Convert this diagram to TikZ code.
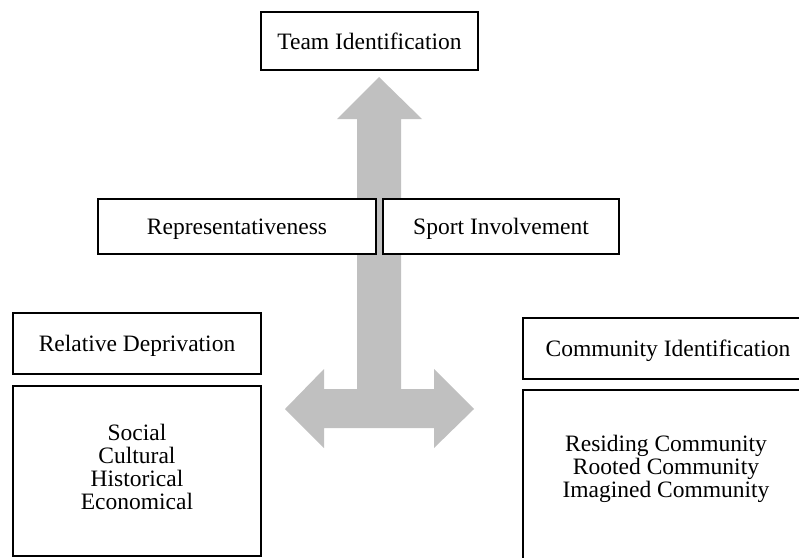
\documentclass[tikz,border=0pt]{standalone}
\usepackage{fontspec}
\setmainfont{Liberation Serif}
\definecolor{arrowgray}{RGB}{192,192,192}
\begin{document}
\begin{tikzpicture}[x=1pt,y=-1pt,
  box/.style={draw=black,line width=1.8pt,fill=white,inner sep=0pt,align=center,
    font=\fontsize{23.5}{23}\selectfont},
  onebox/.style={box,text height=21pt,text depth=5pt},
  listtext/.style={font=\fontsize{23.5}{23}\selectfont,align=center,inner sep=0pt},
  bigarrow/.style={fill=arrowgray,draw=none}]
\useasboundingbox (0,0) rectangle (799,557);
\clip (0,0) rectangle (799,557);
% big gray arrow
\coordinate (tip) at (379,77);
\coordinate (ltip) at (285,409);
\coordinate (rtip) at (474,409);
\fill[bigarrow] (tip) -- (422,119) -- (401,119) -- (401,389) -- (434,389) -- (434,369)
  -- (rtip) -- (434,448) -- (434,428) -- (324,428) -- (324,448) -- (ltip)
  -- (324,369) -- (324,389) -- (357,389) -- (357,119) -- (337,119) -- cycle;
% boxes
\node[onebox,minimum width=217pt,minimum height=58pt] (team) at (369.5,41) {Team Identification};
\node[onebox,minimum width=278pt,minimum height=55pt] (rep) at (237,226.5) {Representativeness};
\node[onebox,minimum width=236pt,minimum height=55pt] (sport) at (501,226.5) {Sport Involvement};
\node[onebox,minimum width=248pt,minimum height=61pt] (rel) at (137,343.5) {Relative Deprivation};
\node[box,minimum width=248pt,minimum height=170pt] (relbox) at (137,471) {};
\node[listtext] (reltext) at (137,467) {Social\\Cultural\\Historical\\Economical};
\node[onebox,minimum width=290pt,minimum height=61pt] (com) at (668,348.5) {Community Identification};
\node[box,minimum width=290pt,minimum height=190pt] (combox) at (668,485) {};
\node[listtext] (comtext) at (666,469) {Residing Community\\Rooted Community\\Imagined Community};
\end{tikzpicture}
\end{document}
